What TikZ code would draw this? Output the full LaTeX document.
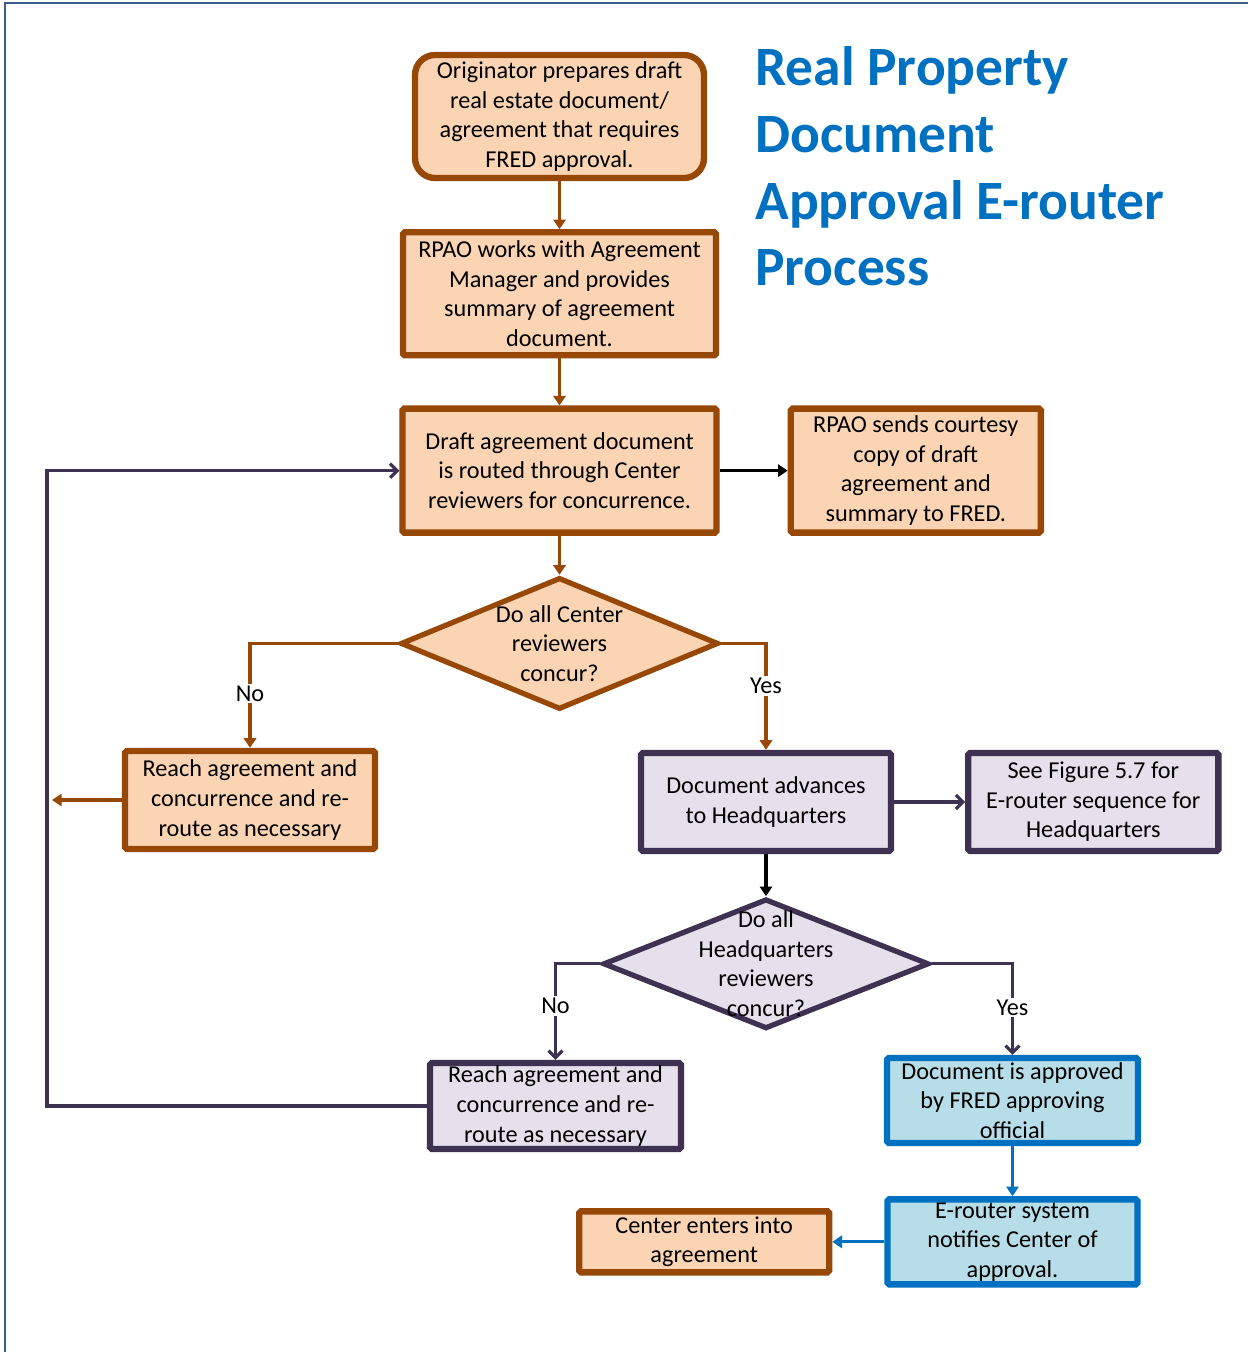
\documentclass[tikz,border=0pt]{standalone}
\usepackage{fontspec}
\setmainfont{Carlito}
\usetikzlibrary{shapes.geometric, arrows.meta, positioning}
\definecolor{rpbrown}{HTML}{974706}
\definecolor{rporange}{HTML}{FBD4B4}
\definecolor{rppurple}{HTML}{3F3151}
\definecolor{rplilac}{HTML}{E5E0EC}
\definecolor{rpblue}{HTML}{0070C0}
\definecolor{rpcyan}{HTML}{B7DDE8}
\definecolor{rpframe}{HTML}{3B5E8C}
\tikzset{
    orangebox/.style={draw=rpbrown, line width=3.6pt, fill=rporange, align=center, rounded corners=1pt, inner sep=1pt, minimum width=5cm},
    purplebox/.style={draw=rppurple, line width=3.6pt, fill=rplilac, align=center, rounded corners=1pt, inner sep=1pt, minimum width=5cm},
    bluebox/.style={draw=rpblue, line width=3.6pt, fill=rpcyan, align=center, rounded corners=1pt, inner sep=1pt, minimum width=5cm},
    decision/.style={diamond, line width=3pt, inner sep=0pt},
    yesno/.style={fill=white, text=black, inner sep=1pt},
    brownarrow/.style={-{Triangle[width=7pt,length=5.5pt]}, line width=1.8pt, rpbrown},
    blackarrow/.style={-{Triangle[width=7pt,length=5.5pt]}, line width=1.8pt, black},
    bluearrow/.style={-{Triangle[width=7pt,length=5.5pt]}, line width=1.8pt, rpblue},
    purplearrow/.style={-{Straight Barb[width=8pt,length=4pt]}, line width=1.8pt, rppurple}
}

\begin{document}
\begin{tikzpicture}[font=\fontsize{13.8}{16.8}\selectfont]
    \useasboundingbox (0,0) rectangle (24.96,-27.04);
    \draw[rpframe, line width=1.7pt] (0.1,-27.04) -- (0.1,-0.06) -- (24.96,-0.06);

    \node[anchor=west, align=left, inner sep=0pt, text=rpblue, font=\fontsize{31.6}{38}\selectfont\bfseries] (title) at (15.1,-3.33) {Real Property\\Document\\Approval E-router\\Process};

        \node[orangebox, rounded corners=0.4cm, minimum width=5.78cm, minimum height=2.46cm] (orig) at (11.19,-2.33) {Originator prepares draft\\real estate document/\\agreement that requires\\FRED approval.};
        \node[orangebox, below=0.96cm of orig, minimum width=6.26cm, minimum height=2.46cm] (rpao) {RPAO works with Agreement\\Manager and provides\\summary of agreement\\document.};
        \node[orangebox, below=0.94cm of rpao, minimum width=6.28cm, minimum height=2.48cm] (draft) {Draft agreement document\\is routed through Center\\reviewers for concurrence.};
        \node[orangebox, right=1.36cm of draft, minimum height=2.48cm] (courtesy) {RPAO sends courtesy\\copy of draft\\agreement and\\summary to FRED.};
        \node[decision, draw=rpbrown, fill=rporange, below=0.78cm of draft, minimum width=6.36cm, minimum height=2.64cm,
              label={[align=center]center:Do all Center\\reviewers\\concur?}] (center) {};
        \node[orangebox, minimum height=1.96cm] (reach1) at (5.0,-16.0) {Reach agreement and\\concurrence and re-\\route as necessary};
        \node[purplebox, minimum height=1.96cm] (advance) at (15.32,-16.04) {Document advances\\to Headquarters};
        \node[purplebox, right=1.42cm of advance, minimum height=1.96cm] (figure) {See Figure 5.7 for\\E-router sequence for\\Headquarters};
        \node[decision, draw=rppurple, fill=rplilac, below=0.84cm of advance, minimum width=6.52cm, minimum height=2.6cm,
              label={[align=center]center:Do all\\Headquarters\\reviewers\\concur?}] (hq) {};
        \node[purplebox, minimum width=5.02cm, minimum height=1.72cm] (reach2) at (11.11,-22.12) {Reach agreement and\\concurrence and re-\\route as necessary};
        \node[bluebox, minimum width=5.02cm, minimum height=1.7cm] (approved) at (20.25,-22.01) {Document is approved\\by FRED approving\\official};
        \node[bluebox, below=1.0cm of approved, minimum height=1.7cm] (notify) {E-router system\\notifies Center of\\approval.};
        \node[orangebox, left=1.04cm of notify, minimum height=1.22cm] (enter) {Center enters into\\agreement};
        \coordinate (loopleft) at (0.94,-16.0);

        \draw[brownarrow] (orig) -- (rpao);
        \draw[brownarrow] (rpao) -- (draft);
        \draw[blackarrow] (draft) -- (courtesy);
        \draw[brownarrow] (draft) -- (center);
        \draw[brownarrow] (center.west) -| node[yesno, pos=0.74] (no1) {No} (reach1.north);
        \draw[brownarrow] (center.east) -| node[yesno, pos=0.7] (yes1) {Yes} (advance.north);
        \draw[brownarrow, shorten >=0.1cm] (reach1.west) -- (reach1.west -| loopleft);
        \draw[purplearrow] (reach2.west) -| (loopleft) |- (draft.west);
        \draw[purplearrow] (advance) -- (figure);
        \draw[blackarrow] (advance) -- (hq);
        \draw[purplearrow] (hq.west) -| node[yesno, pos=0.72] (no2) {No} (reach2.north);
        \draw[purplearrow] (hq.east) -| node[yesno, pos=0.74] (yes2) {Yes} (approved.north);
        \draw[bluearrow] (approved) -- (notify);
        \draw[bluearrow] (notify) -- (enter);
    \end{tikzpicture}
\end{document}
